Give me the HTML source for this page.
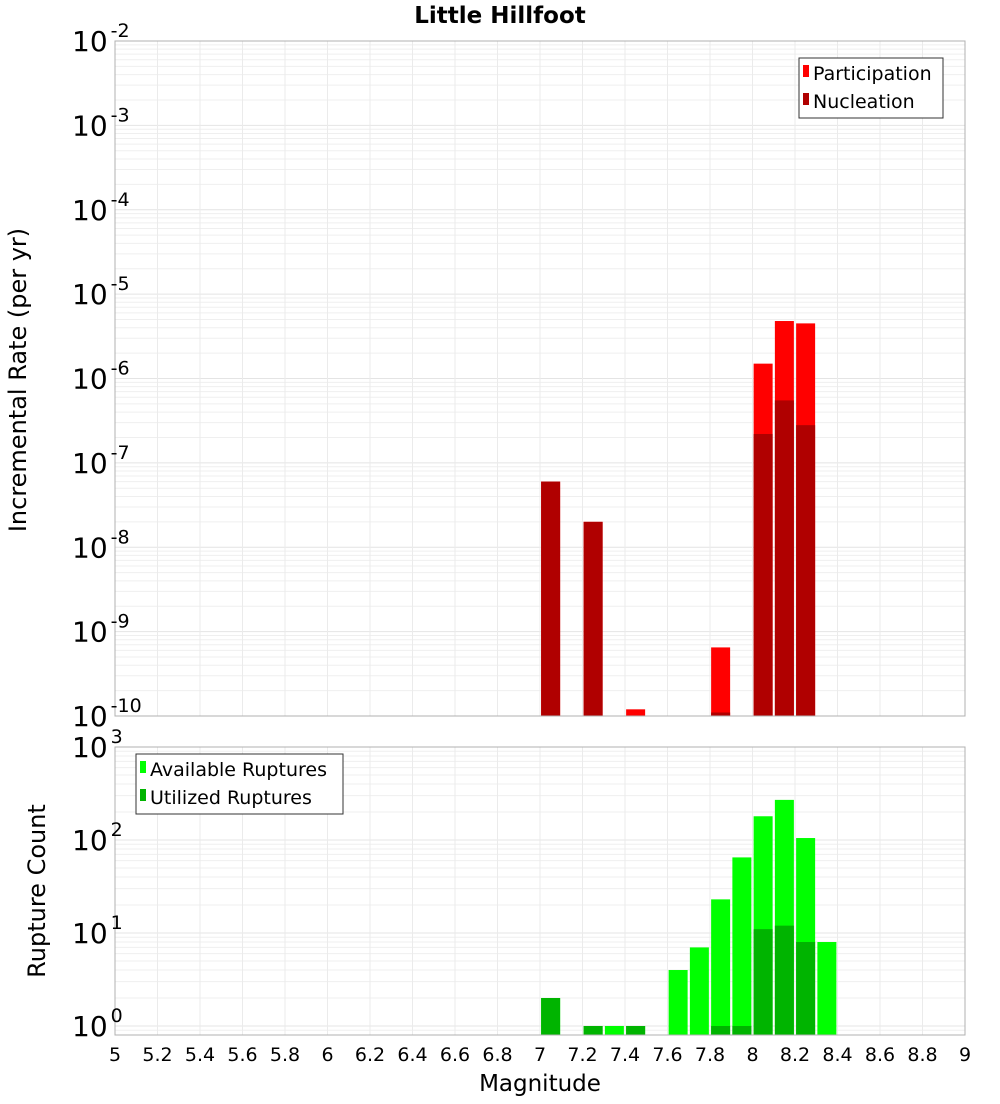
<!DOCTYPE html>
<html><head><meta charset="utf-8"><style>
body{margin:0;background:#fff;width:1000px;height:1100px;overflow:hidden;font-family:"DejaVu Sans","Liberation Sans",sans-serif}
</style></head><body>
<svg id="c" width="1000" height="1100" xmlns="http://www.w3.org/2000/svg"></svg>
<script>
const xTicks=[5,5.2,5.4,5.6,5.8,6,6.2,6.4,6.6,6.8,7,7.2,7.4,7.6,7.8,8,8.2,8.4,8.6,8.8,9];
const rateMags=[7.05,7.25,7.45,7.85,8.05,8.15,8.25];
const participation=[6e-8,2e-8,1.2e-10,6.5e-10,1.5e-6,4.8e-6,4.5e-6];
const nucleation=[6e-8,2e-8,0,1.1e-10,2.2e-7,5.5e-7,2.8e-7];
const countMags=[7.05,7.25,7.35,7.45,7.65,7.75,7.85,7.95,8.05,8.15,8.25,8.35];
const available=[2,1,1,1,4,7,23,65,180,270,105,8];
const utilized=[2,1,0,1,0,0,1,1,11,12,8,0];
const topExps=[-2,-3,-4,-5,-6,-7,-8,-9,-10];
const botExps=[3,2,1,0];

const NS="http://www.w3.org/2000/svg",svg=document.getElementById('c');
function el(t,a,p){const e=document.createElementNS(NS,t);for(const k in a)e.setAttribute(k,a[k]);(p||svg).appendChild(e);return e;}
const X0=115,X1=965;
const xs=v=>X0+(v-5)/4*(X1-X0);
const T0=41,T1=716;
const ty=v=>T0+(-2-Math.log10(v))/8*(T1-T0);
const B0=747,B1=1035,bpd=93;
const by=v=>B0+(3-Math.log10(v))*bpd;
const bw=19;

function grid(top,bot,yf,expMax,expMin){
  for(let e=expMax;e>=expMin;e--){for(let m=1;m<10;m++){const v=m*Math.pow(10,e);const y=yf(v);if(y<top||y>bot)continue;
    const l=el('line',{x1:X0,x2:X1,y1:y,y2:y,stroke:m==1?'#e4e4e4':'#efefef','stroke-width':1});
    }}
  xTicks.forEach(t=>{const x=xs(t);const l=el('line',{x1:x,x2:x,y1:top,y2:bot,stroke:'#ebebeb'});
    });
}
grid(T0,T1,ty,-2,-10);
grid(B0,B1,by,3,-1);

rateMags.forEach((m,i)=>{const x=xs(m)-bw/2;
  if(participation[i]>0){const r=el('rect',{x:x,y:ty(participation[i]),width:bw,height:T1-ty(participation[i]),fill:'#ff0000'});
    }
  if(nucleation[i]>0){const r=el('rect',{x:x,y:ty(nucleation[i]),width:bw,height:T1-ty(nucleation[i]),fill:'#b00000'});
    }
});
countMags.forEach((m,i)=>{const x=xs(m)-bw/2;
  if(available[i]>0){const r=el('rect',{x:x,y:by(available[i]),width:bw,height:B1-by(available[i]),fill:'#00ff00'});
    }
  if(utilized[i]>0){const r=el('rect',{x:x,y:by(utilized[i]),width:bw,height:B1-by(utilized[i]),fill:'#00b400'});
    }
});
let f=el('rect',{x:X0,y:T0,width:X1-X0,height:T1-T0,fill:'none',stroke:'#b0b0b0'});

f=el('rect',{x:X0,y:B0,width:X1-X0,height:B1-B0,fill:'none',stroke:'#b0b0b0'});


function pow(y,e,name){const t=el('text',{x:72,y:y,'font-size':28,'text-anchor':'start',fill:'#000'});
  
  t.textContent='10';const s=el('tspan',{dx:3,dy:-14,'font-size':19},t);s.textContent=String(e);}
topExps.forEach(e=>pow(ty(Math.pow(10,e))+10,e,'y-tick-label'));
botExps.forEach(e=>pow(by(Math.pow(10,e))+10,e,'count-tick-label'));
xTicks.forEach(t=>{const tx=el('text',{x:xs(t),y:1061,'font-size':19,'text-anchor':'middle'});
  tx.textContent=String(t);});

function txt(s,a,name){const t=el('text',a);t.textContent=s;return t;}
txt('Little Hillfoot',{x:500,y:23,'font-size':23,'font-weight':'bold','text-anchor':'middle'},'chart-title');
txt('Magnitude',{x:540,y:1091,'font-size':23,'text-anchor':'middle'},'x-axis-title');
txt('Incremental Rate (per yr)',{x:0,y:0,'font-size':24,'text-anchor':'middle',transform:'translate(26,380) rotate(-90)'},'y-axis-title');
txt('Rupture Count',{x:0,y:0,'font-size':24,'text-anchor':'middle',transform:'translate(45,891) rotate(-90)'},'count-axis-title');

function legend(x,y,w,items,name){const g=el('g',{});
  el('rect',{x:x,y:y,width:w,height:60,fill:'#fff',stroke:'#333'},g);
  items.forEach((it,i)=>{const yy=y+16+i*28;
    el('rect',{x:x+4,y:yy-9,width:6,height:12,fill:it[1]},g);
    const t=el('text',{x:x+14,y:yy+6,'font-size':19},g);t.textContent=it[0];});}
legend(799,58,144,[['Participation','#ff0000'],['Nucleation','#b00000']],'rate-legend');
legend(136,754,207,[['Available Ruptures','#00ff00'],['Utilized Ruptures','#00b400']],'count-legend');
</script>
</body></html>
